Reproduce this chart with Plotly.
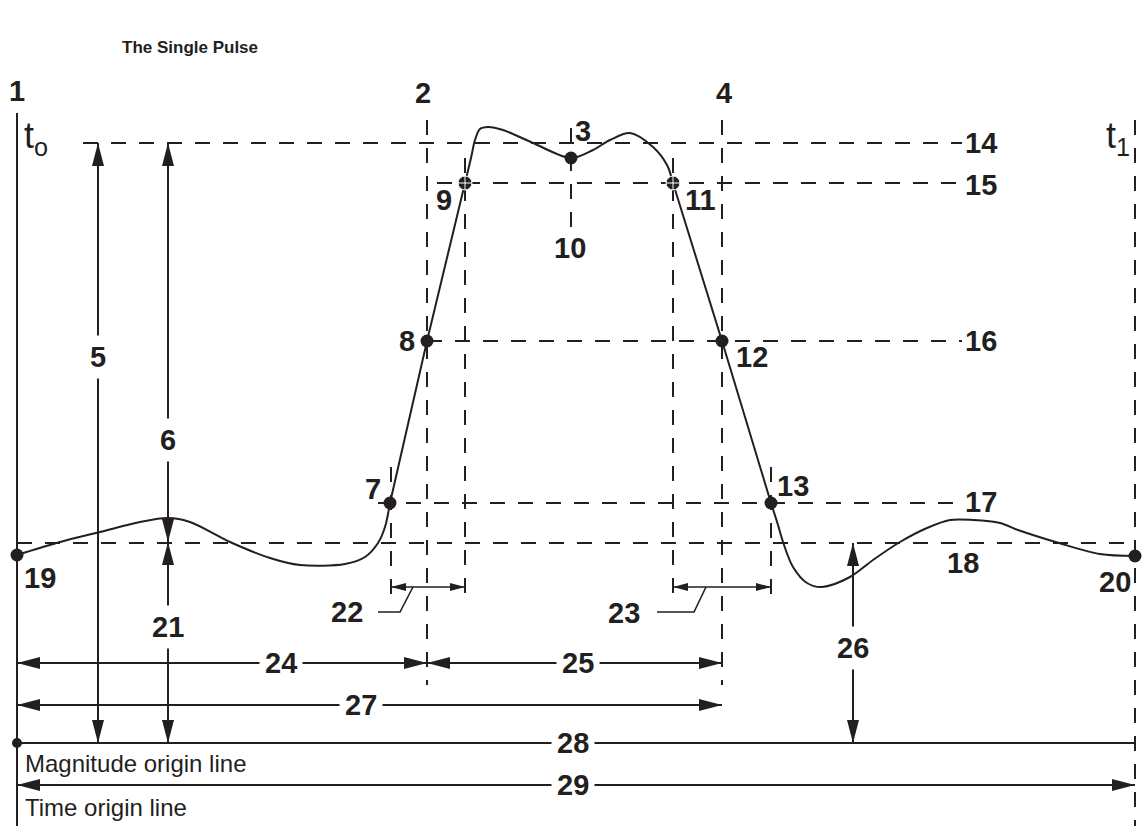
import math
import plotly.graph_objects as go

W, H = 1146, 826
INK = "#231f20"
FONT = "Liberation Sans, Arial, sans-serif"

title_text = "The Single Pulse"

# ---- waveform (pixel units of the drawing) ----
left_tail_x = [17, 60, 100, 140, 168, 190, 230, 270, 300, 345, 365, 378, 385, 390]
left_tail_y = [555, 542, 532, 522, 518, 522, 542, 558, 565, 564, 557, 543, 527, 503]
rise_x = [390, 427, 465]
rise_y = [503, 341, 183]
top_x = [465, 471, 475, 480, 488, 503, 533, 571, 593, 610, 630, 653, 667, 673]
top_y = [183, 158, 140, 129, 127, 130, 143, 158, 150, 140, 133, 147, 165, 183]
fall_x = [673, 722, 771]
fall_y = [183, 341, 503]
right_tail_x = [771, 778, 783, 793, 807, 822, 850, 873, 900, 927, 950, 973, 1000, 1018, 1059, 1100, 1135]
right_tail_y = [503, 525, 542, 567, 583, 587, 577, 560, 542, 528, 520, 520, 523, 530, 543, 554, 556]

# ---- labelled points on the waveform ----
dot_labels = ["19", "7", "8", "3", "12", "13", "20"]
dot_x = [17, 390, 427, 571, 722, 771, 1135]
dot_y = [555, 503, 341, 158, 341, 503, 556]
cross_dot_labels = ["9", "11"]
cross_dot_x = [465, 673]
cross_dot_y = [183, 183]

# ---- dashed reference lines ----
h_dash_y = [143, 183, 341, 503, 543]
h_dash_x0 = [83, 437, 427, 378, 17]
h_dash_x1 = [962, 962, 962, 962, 1135]
v_dash_x = [427, 722, 1135, 391, 465, 571, 673, 771]
v_dash_y0 = [120, 120, 120, 467, 158, 128, 158, 467]
v_dash_y1 = [685, 685, 826, 595, 595, 228, 595, 595]

# ---- dimension arrows ----
vert_arrows_x = [98, 168, 168, 853]
vert_arrows_y0 = [143, 143, 542, 543]
vert_arrows_y1 = [743, 542, 743, 743]
vert_arrow_labels = ["5", "6", "21", "26"]
vert_arrow_label_y = [357, 440, 627, 648]

horiz_arrows_y = [663, 663, 705, 785]
horiz_arrows_x0 = [17, 427, 17, 17]
horiz_arrows_x1 = [427, 722, 722, 1135]
horiz_arrow_labels = ["24", "25", "27", "29"]
horiz_arrow_label_x = [281, 578, 361, 573]

small_arrows_y = [587, 587]
small_arrows_x0 = [391, 673]
small_arrows_x1 = [465, 771]
small_arrow_labels = ["22", "23"]
leader_x = [[413, 400, 378], [706, 694, 657]]
leader_y = [[587, 612, 612], [587, 612, 612]]
small_label_x = [347, 624]
small_label_y = [612, 613]

# ---- other labels ----
free_labels = ["1", "2", "4", "3", "9", "10", "11", "8", "12", "7", "13",
               "14", "15", "16", "17", "18", "19", "20"]
free_label_x = [17, 423, 724, 583, 444, 570, 700, 407, 752, 373, 793,
                981, 981, 981, 981, 963, 40, 1115]
free_label_y = [91, 93, 93, 131, 200, 248, 200, 341, 357, 489, 486,
                143, 185, 341, 502, 563, 578, 582]

fig = go.Figure()

def line_shape(x0, y0, x1, y1, dash="solid", width=2):
    fig.add_shape(type="line", xref="x", yref="y", x0=x0, y0=y0, x1=x1, y1=y1,
                  line=dict(color=INK, width=width, dash=dash), layer="below")

def head(tx, ty, fx, fy, length=23, half=6):
    dx, dy = tx - fx, ty - fy
    n = math.hypot(dx, dy)
    ux, uy = dx / n, dy / n
    bx, by = tx - ux * length, ty - uy * length
    px, py = -uy * half, ux * half
    path = f"M{tx},{ty} L{bx + px},{by + py} L{bx - px},{by - py} Z"
    fig.add_shape(type="path", xref="x", yref="y", path=path,
                  fillcolor=INK, line=dict(width=0), layer="above")

DASH = "15px,13px"

# time origin line & magnitude origin line
line_shape(17, 113, 17, 826, width=2)
line_shape(17, 743, 1135, 743, width=2)

for y, x0, x1 in zip(h_dash_y, h_dash_x0, h_dash_x1):
    line_shape(x0, y, x1, y, dash=DASH)
for x, y0, y1 in zip(v_dash_x, v_dash_y0, v_dash_y1):
    line_shape(x, y0, x, y1, dash=DASH)

for x, y0, y1 in zip(vert_arrows_x, vert_arrows_y0, vert_arrows_y1):
    line_shape(x, y0, x, y1)
    head(x, y0, x, y1)
    head(x, y1, x, y0)
for y, x0, x1 in zip(horiz_arrows_y, horiz_arrows_x0, horiz_arrows_x1):
    line_shape(x0, y, x1, y)
    head(x0, y, x1, y)
    head(x1, y, x0, y)
for y, x0, x1 in zip(small_arrows_y, small_arrows_x0, small_arrows_x1):
    line_shape(x0, y, x1, y, width=1.6)
    head(x0, y, x1, y, length=15, half=4)
    head(x1, y, x0, y, length=15, half=4)
for lx, ly in zip(leader_x, leader_y):
    fig.add_trace(go.Scatter(x=lx, y=ly, mode="lines",
                             line=dict(color=INK, width=1.6), hoverinfo="skip"))

# waveform
for xs, ys, shape in [(left_tail_x, left_tail_y, "spline"), (rise_x, rise_y, "linear"),
                      (top_x, top_y, "spline"), (fall_x, fall_y, "linear"),
                      (right_tail_x, right_tail_y, "spline")]:
    fig.add_trace(go.Scatter(x=xs, y=ys, mode="lines",
                             line=dict(color=INK, width=2, shape=shape, smoothing=0.9),
                             hoverinfo="skip"))

fig.add_trace(go.Scatter(x=dot_x, y=dot_y, mode="markers", text=dot_labels,
                         marker=dict(color=INK, size=13), hoverinfo="text"))
fig.add_trace(go.Scatter(x=cross_dot_x, y=cross_dot_y, mode="markers", text=cross_dot_labels,
                         marker=dict(color=INK, size=14, symbol="circle-cross",
                                     line=dict(color="white", width=1)), hoverinfo="text"))
fig.add_trace(go.Scatter(x=[17], y=[743], mode="markers",
                         marker=dict(color=INK, size=10), hoverinfo="skip"))

NUMFONT = dict(family=FONT, size=29, color=INK)

def label(text, x, y, bg=None, pad=1):
    fig.add_annotation(x=x, y=y, xref="x", yref="y", text=f"<b>{text}</b>",
                       showarrow=False, font=NUMFONT, xanchor="center", yanchor="middle",
                       bgcolor=bg if bg else "rgba(0,0,0,0)", borderpad=pad)

for t, x, y in zip(free_labels, free_label_x, free_label_y):
    label(t, x, y)
for t, x, y in zip(vert_arrow_labels, vert_arrows_x, vert_arrow_label_y):
    label(t, x, y, bg="white", pad=5)
for t, x, y in zip(horiz_arrow_labels, horiz_arrow_label_x, horiz_arrows_y):
    label(t, x, y, bg="white", pad=5)
for t, x, y in zip(small_arrow_labels, small_label_x, small_label_y):
    label(t, x, y)
label("28", 573, 743, bg="white", pad=5)

fig.add_annotation(x=190, y=47, xref="x", yref="y", text=f"<b>{title_text}</b>", showarrow=False,
                   font=dict(family=FONT, size=17, color=INK), xanchor="center", yanchor="middle")
fig.add_annotation(x=22, y=138, xref="x", yref="y", text="t<sub>o</sub>", showarrow=False,
                   font=dict(family=FONT, size=36, color=INK), xanchor="left", yanchor="middle")
fig.add_annotation(x=1104, y=138, xref="x", yref="y", text="t<sub>1</sub>", showarrow=False,
                   font=dict(family=FONT, size=36, color=INK), xanchor="left", yanchor="middle")
fig.add_annotation(x=23, y=763, xref="x", yref="y", text="Magnitude origin line", showarrow=False,
                   font=dict(family=FONT, size=24, color=INK), xanchor="left", yanchor="middle")
fig.add_annotation(x=23, y=807, xref="x", yref="y", text="Time origin line", showarrow=False,
                   font=dict(family=FONT, size=24, color=INK), xanchor="left", yanchor="middle")

fig.update_layout(
    width=W, height=H, margin=dict(l=0, r=0, t=0, b=0),
    paper_bgcolor="white", plot_bgcolor="white", showlegend=False,
    xaxis=dict(range=[0, W], visible=False, fixedrange=True),
    yaxis=dict(range=[H, 0], visible=False, fixedrange=True),
)

fig.write_html("out.html", config={"displayModeBar": False},
               post_script="document.body.style.margin='0';document.body.style.overflow='hidden';")
